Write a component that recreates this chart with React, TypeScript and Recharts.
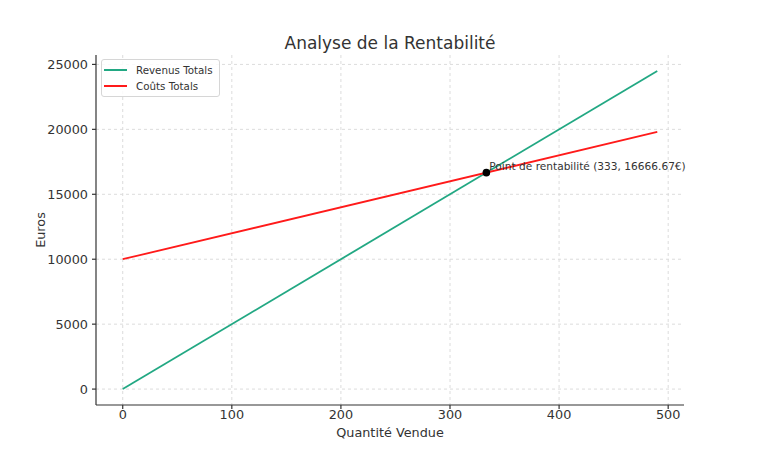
import React from 'react';
import { LineChart, Line, XAxis, YAxis, CartesianGrid, ReferenceDot } from 'recharts';

const quantities = [0, 490];
const revenus = [0, 24500];
const couts = [10000, 19800];
const xTicks = [0, 100, 200, 300, 400, 500];
const yTicks = [0, 5000, 10000, 15000, 20000, 25000];
const xDomain = [-24.5, 514.5];
const yDomain = [-1225, 25725];
const seriesNames = ['Revenus Totals', 'Coûts Totals'];
const BREAK_EVEN_Q = 333.33;
const BREAK_EVEN_EUR = 16666.67;
const BREAK_EVEN_LABEL = 'Point de rentabilité (333, 16666.67€)';

const data = quantities.map((q, i) => ({ q, revenus: revenus[i], couts: couts[i] }));

const FONT = 'DejaVu Sans, sans-serif';
const GREEN = '#22a883';
const RED = '#ff1a1a';
const seriesColors = [GREEN, RED];

const scaleOf = (axis: any, dom: number[], start: number, size: number, invert: boolean) => {
  const s = axis && axis.scale;
  if (typeof s === 'function') return (v: number) => s(v);
  if (s && typeof s.map === 'function') return (v: number) => s.map(v);
  return (v: number) => {
    const f = (v - dom[0]) / (dom[1] - dom[0]);
    return invert ? start + size * (1 - f) : start + size * f;
  };
};

const LegendBox = () => (
  <div
    style={{
      position: 'absolute',
      left: 101,
      top: 59,
      border: '1px solid #d6d6d6',
      borderRadius: 3,
      background: 'rgba(255,255,255,0.85)',
      padding: '2px 6px 2px 2px',
      fontFamily: FONT,
      fontSize: 10.3,
      color: '#333',
      lineHeight: '16px',
      zIndex: 2,
    }}
  >
    {seriesNames.map((name, i) => (
      <div key={name} style={{ display: 'flex', alignItems: 'center' }}>
        <span style={{ display: 'inline-block', width: 23, height: 2, background: seriesColors[i], marginRight: 9 }} />
        <span>{name}</span>
      </div>
    ))}
  </div>
);

const BreakEvenShape = (props: any) => {
  const { cx, cy } = props;
  return (
    <g>
      <circle cx={cx} cy={cy} r={3.8} fill="#000" />
      <text x={cx + 3} y={cy - 3} fontFamily={FONT} fontSize={10.6} fill="#333">
        {BREAK_EVEN_LABEL}
      </text>
    </g>
  );
};

export default function App() {
  return (
    <div style={{ position: 'fixed', left: 0, top: 0, width: 760, height: 456, background: '#fff' }}>
      <svg width={760} height={456} style={{ position: 'absolute', left: 0, top: 0, pointerEvents: 'none' }}>
        <text x={390} y={49} textAnchor="middle" fontFamily={FONT} fontSize={17} fill="#333">
          Analyse de la Rentabilité
        </text>
        <text x={390} y={437} textAnchor="middle" fontFamily={FONT} fontSize={12.8} fill="#333">
          Quantité Vendue
        </text>
        <text
          x={45}
          y={230}
          textAnchor="middle"
          fontFamily={FONT}
          fontSize={12.8}
          fill="#333"
          transform="rotate(-90 45 230)"
        >
          Euros
        </text>
      </svg>
      <LineChart
        width={760}
        height={456}
        data={data}
        margin={{ top: 55, right: 76, bottom: 21, left: 36 }}
        style={{ position: 'absolute', left: 0, top: 0 }}
      >
        <CartesianGrid
          stroke="#dcdcdc"
          strokeDasharray="3 3"
          horizontalCoordinatesGenerator={({ yAxis, offset }: any) => {
            const sc = scaleOf(yAxis, yDomain, offset.top, offset.height, true);
            return yTicks.map((t) => sc(t));
          }}
          verticalCoordinatesGenerator={({ xAxis, offset }: any) => {
            const sc = scaleOf(xAxis, xDomain, offset.left, offset.width, false);
            return xTicks.map((t) => sc(t));
          }}
        />
        <XAxis
          dataKey="q"
          type="number"
          domain={xDomain}
          ticks={xTicks}
          allowDataOverflow
          height={30}
          tickSize={4}
          tickMargin={1}
          stroke="#333"
          strokeWidth={1.2}
          tick={{ fontFamily: FONT, fontSize: 12.8, fill: '#333' }}
        />
        <YAxis
          type="number"
          domain={yDomain}
          ticks={yTicks}
          allowDataOverflow
          width={60}
          tickSize={4}
          tickMargin={4}
          stroke="#333"
          strokeWidth={1.2}
          tick={{ fontFamily: FONT, fontSize: 12.8, fill: '#333' }}
        />
        <Line
          name={seriesNames[0]}
          dataKey="revenus"
          stroke={GREEN}
          strokeWidth={1.8}
          dot={false}
          isAnimationActive={false}
        />
        <Line
          name={seriesNames[1]}
          dataKey="couts"
          stroke={RED}
          strokeWidth={1.8}
          dot={false}
          isAnimationActive={false}
        />
        <ReferenceDot x={BREAK_EVEN_Q} y={BREAK_EVEN_EUR} r={4} shape={<BreakEvenShape />} />
      </LineChart>
      <LegendBox />
    </div>
  );
}
